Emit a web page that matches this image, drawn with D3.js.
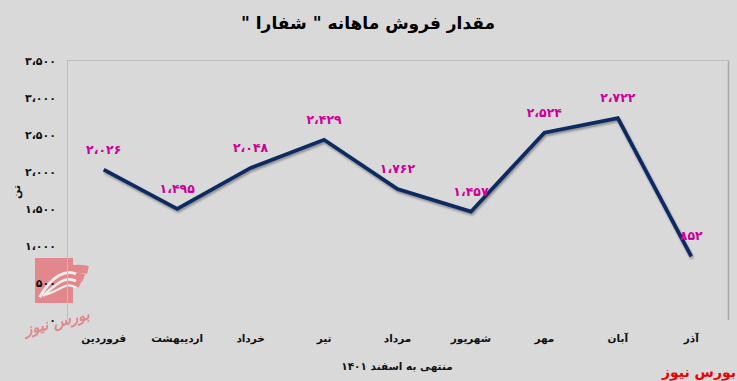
<!DOCTYPE html>
<html>
<head>
<meta charset="utf-8">
<script src="https://cdn.jsdelivr.net/npm/d3@7"></script>
<style>
  html, body { margin: 0; padding: 0; background: #d9d9d9; }
  svg { display: block; }
  text { font-family: "DejaVu Sans", sans-serif; font-weight: bold; }
</style>
</head>
<body>
<svg id="chart" width="737" height="381"></svg>
<script>
// ---- data ----
const months = ["فروردین", "اردیبهشت", "خرداد", "تیر", "مرداد", "شهریور", "مهر", "آبان", "آذر"];
const sales = [2026, 1495, 2048, 2429, 1762, 1457, 2524, 2722, 852];
const yTicks = [0, 500, 1000, 1500, 2000, 2500, 3000, 3500];
const title = "مقدار فروش ماهانه \" شفارا \"";
const xTitle = "منتهی به اسفند ۱۴۰۱";
const yTitle = "تن";
const source = "بورس نیوز";

// ---- helpers ----
const faDigits = "۰۱۲۳۴۵۶۷۸۹";
function fa(n) {
  return d3.format(",")(n).replace(/\d/g, d => faDigits[+d]).replace(/,/g, "،");
}

const W = 737, H = 381;
const plot = { left: 67, right: 728, top: 60.5, bottom: 319.5 };

const svg = d3.select("#chart");

// background
svg.append("rect").attr("width", W).attr("height", H).attr("fill", "#d9d9d9");

const defs = svg.append("defs");
const f = defs.append("filter").attr("id", "shadow").attr("x", "-10%").attr("y", "-10%").attr("width", "120%").attr("height", "130%");
f.append("feDropShadow").attr("dx", 1).attr("dy", 2).attr("stdDeviation", 1.2).attr("flood-color", "#000").attr("flood-opacity", 0.35);

// watermark logo (bottom-left)
const logo = svg.append("g").attr("opacity", 0.85);
logo.append("rect").attr("x", 35).attr("y", 258).attr("width", 38).attr("height", 45).attr("fill", "#e47a80");
[[0, 5], [7, 4.5], [13, 4]].forEach(([o, w]) => {
  logo.append("path").attr("d", `M${40 + o * 0.5},${298 - o * 0.2} C${48 + o},${272 + o} ${70},${266 + o} ${88 - o * 0.6},${270 + o * 1.1}`)
    .attr("fill", "none").attr("stroke", "#e47a80").attr("stroke-width", w + 3);
});
[[3.5, 3], [10, 2.6], [16, 2.2]].forEach(([o, w]) => {
  logo.append("path").attr("d", `M${38 + o * 0.5},${298 - o * 0.2} C${48 + o},${272 + o} ${66},${266 + o} ${76},${270 + o * 1.1}`)
    .attr("fill", "none").attr("stroke", "#f4f0f0").attr("stroke-width", w);
});
logo.append("text").attr("x", 57).attr("y", 327).attr("text-anchor", "middle")
  .attr("fill", "#e47a80").attr("font-size", 15).attr("font-style", "italic").attr("font-weight", "normal")
  .attr("transform", "rotate(-14,57,322)").text("بورس نیوز");

// plot frame
const frame = svg.append("g");
frame.append("line").attr("x1", plot.left).attr("x2", plot.right).attr("y1", 60.5).attr("y2", 60.5).attr("stroke", "#bdbdbd").attr("stroke-width", 1);
frame.append("line").attr("x1", plot.left + 0.5).attr("x2", plot.left + 0.5).attr("y1", 60.5).attr("y2", 320).attr("stroke", "#bdbdbd").attr("stroke-width", 1);
frame.append("line").attr("x1", plot.right + 0.5).attr("x2", plot.right + 0.5).attr("y1", 60.5).attr("y2", 320).attr("stroke", "#a9a9a9").attr("stroke-width", 1.5);

// scales
const x = d3.scaleBand().domain(months).range([plot.left, plot.right]).padding(0);
const cx = d => x(d) + x.bandwidth() / 2;
const y = d3.scaleLinear().domain([0, 3500]).range([plot.bottom, plot.top]);

// y axis
const yAxis = svg.append("g").attr("transform", `translate(${plot.left},0)`)
  .call(d3.axisLeft(y).tickValues(yTicks).tickSize(0).tickPadding(11).tickFormat(fa));
yAxis.select(".domain").remove();
yAxis.selectAll("text").attr("font-size", 11).attr("fill", "#111")
  .style("font-family", "\"DejaVu Sans\", sans-serif").style("font-weight", "bold");

// x axis
const xAxis = svg.append("g").attr("transform", `translate(0,320)`)
  .call(d3.axisBottom(x).tickSize(0).tickPadding(15));
xAxis.select(".domain").remove();
xAxis.selectAll("text").attr("font-size", 10.5).attr("fill", "#111")
  .style("font-family", "\"DejaVu Sans\", sans-serif").style("font-weight", "bold");

// line
const data = months.map((m, i) => ({ m, v: sales[i] }));
svg.append("path").datum(data)
  .attr("d", d3.line().x(d => cx(d.m)).y(d => y(d.v)))
  .attr("fill", "none").attr("stroke", "#0f2b62").attr("stroke-width", 3.8)
  .attr("stroke-linejoin", "miter").attr("filter", "url(#shadow)");

// data labels
svg.append("g").selectAll("text").data(data).join("text")
  .attr("x", d => cx(d.m)).attr("y", d => y(d.v) - 16)
  .attr("text-anchor", "middle").attr("fill", "#cc0099").attr("font-size", 12.5)
  .text(d => fa(d.v));

// title
svg.append("text").attr("x", 368).attr("y", 29).attr("text-anchor", "middle")
  .style("direction", "rtl").style("unicode-bidi", "embed")
  .attr("font-size", 17).attr("fill", "#000").text(title);

// x title
svg.append("text").attr("x", 397).attr("y", 370).attr("text-anchor", "middle")
  .style("direction", "rtl")
  .attr("font-size", 10.5).attr("fill", "#111").text(xTitle);

// y title
svg.append("text").attr("transform", "translate(16,192) rotate(-90)").attr("text-anchor", "middle")
  .attr("dy", "0.35em").attr("font-size", 11).attr("fill", "#111").text(yTitle);

// source
svg.append("text").attr("x", 736).attr("y", 377).attr("text-anchor", "end")
  .attr("font-size", 14).attr("fill", "#ee0000").text(source);
</script>
</body>
</html>
